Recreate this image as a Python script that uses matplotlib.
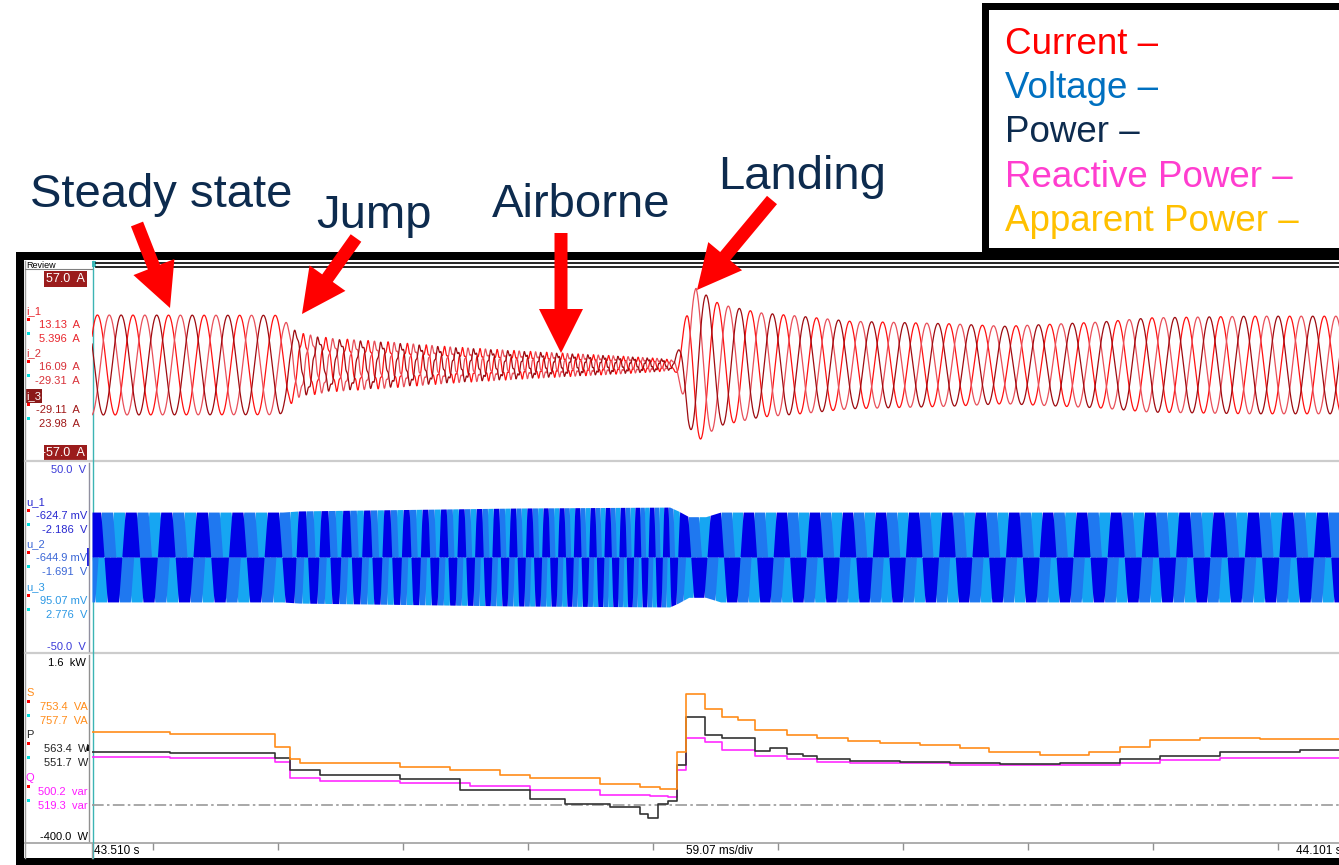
import matplotlib.pyplot as plt
import numpy as np
from matplotlib.patches import Rectangle, FancyArrow

W, H = 1339, 865
MS_PER_DIV = 59.07
SPAN_MS = 10 * MS_PER_DIV

# --- electrical frequency of the drive (ms, Hz), read from the peak spacing ---
freq_t = [0, 90.3, 95.9, 112.5, 145.6, 192.8, 240.1, 273.1, 276.4, 280.7, 287.3, 381.8, 476.3, 590.7]
freq_hz = [59.5, 59.5, 90, 97, 110, 125, 140, 150, 110, 70, 64, 64, 62, 61]

# --- phase current envelope (ms, A) ---
cur_amp_t = [0, 88.8, 92.6, 98.3, 112.5, 138.5, 169.2, 202.3, 221.2, 249.5, 268.4, 275.0,
             277.9, 281.7, 285.5, 289.7, 296.8, 315.7, 334.6, 358.2, 405.5, 431.0, 476.3,
             500.0, 547.2, 590.7]
cur_amp = [29.7, 29.5, 24, 18, 15, 13, 10, 7.7, 6.5, 4.8, 3.5, 2.6,
           12, 35, 46, 42, 36, 31, 29, 26, 24.5, 23, 25.5,
           28, 29, 29]
# distortion of the current during the airborne phase (ms, fraction of 5th harmonic)
ripple_t = [0, 90, 100, 200, 272, 277, 590.7]
ripple = [0.0, 0.0, 0.12, 0.2, 0.25, 0.0, 0.0]

# --- phase voltage envelope (ms, V) ---
volt_amp_t = [0, 90, 98, 200, 273, 277, 282, 290, 297, 590.7]
volt_amp = [23.4, 23.4, 24.0, 25.5, 26.0, 24.0, 21.0, 21.0, 23.4, 23.4]

# --- power traces, step values (ms, VA / W / var) ---
s_t = [0, 36.9, 86.5, 93.6, 98.3, 145.6, 169.2, 192.8, 207.0, 240.1, 259.0, 268.4, 276.4,
       280.7, 289.7, 297.7, 305.3, 313.3, 328.4, 342.6, 357.3, 372.4, 391.3, 410.2, 424.0,
       448.0, 471.0, 485.8, 500.0, 523.6, 552.0, 570.9, 590.7]
s_va = [766, 745, 610, 480, 445, 400, 370, 320, 280, 225, 190, 170, 560,
        1172, 1012, 926, 894, 787, 734, 702, 670, 650, 630, 600, 560,
        530, 560, 610, 680, 710, 700, 695, 695]
p_t = [0, 36.9, 86.5, 93.6, 107.7, 145.6, 173.9, 207.0, 223.5, 244.8, 259.0, 262.7, 267.5,
       272.2, 276.4, 280.7, 289.7, 297.7, 313.3, 320.4, 328.4, 336.0, 342.6, 358.2, 381.8,
       405.5, 429.0, 457.5, 485.8, 504.7, 533.0, 570.9, 590.7]
p_w = [563, 550, 500, 370, 320, 270, 160, 60, 10, -20, -90, -140, 10,
       40, 420, 926, 734, 702, 573, 595, 541, 520, 488, 466, 455,
       440, 430, 440, 480, 520, 560, 575, 575]
q_t = [0, 36.9, 86.5, 93.6, 107.7, 145.6, 178.6, 207.0, 240.1, 263.7, 272.2, 276.4, 280.7,
       289.7, 297.7, 313.3, 328.4, 342.6, 358.2, 405.5, 452.7, 485.8, 504.7, 533.0, 570.9,
       590.7]
q_var = [509, 500, 450, 280, 250, 230, 200, 160, 110, 90, 80, 370, 702,
         659, 584, 520, 488, 455, 445, 425, 420, 440, 470, 495, 500,
         500]

# --- cursor readouts in the left column ---
current_names = ["i_1", "i_2", "i_3"]
current_c1 = ["13.13  A", "16.09  A", "-29.11  A"]
current_c2 = ["5.396  A", "-29.31  A", "23.98  A"]
voltage_names = ["u_1", "u_2", "u_3"]
voltage_c1 = ["-624.7 mV", "-644.9 mV", "95.07 mV"]
voltage_c2 = ["-2.186  V", "-1.691  V", "2.776  V"]
power_names = ["S", "P", "Q"]
power_c1 = ["753.4  VA", "563.4  W", "500.2  var"]
power_c2 = ["757.7  VA", "551.7  W", "519.3  var"]

legend_labels = ["Current \u2013", "Voltage \u2013", "Power \u2013",
                 "Reactive Power \u2013", "Apparent Power \u2013"]
legend_colors = ["#ff0000", "#0070c0", "#0d2b4e", "#ff3dcf", "#ffc000"]

phase_labels = ["Steady state", "Jump", "Airborne", "Landing"]

CUR_COLORS = ["#ff1010", "#e8505a", "#9e0b10"]
CUR_TEXT = ["#e8262e", "#d83038", "#a01818"]
VOLT_COLORS = ["#0000e6", "#1f78f0", "#16a6f2"]
VOLT_TEXT = ["#2828d0", "#3a66d6", "#2c98e4"]
POW_COLORS = ["#ff8c1a", "#333333", "#ff2bff"]
NAVY = "#0d2b4e"
FONT = ["Liberation Sans", "DejaVu Sans"]


def px_axes(fig, x0, y0, x1, y1):
    """Axes placed by pixel box (top-left origin)."""
    ax = fig.add_axes([x0 / W, 1 - y1 / H, (x1 - x0) / W, (y1 - y0) / H])
    ax.set_facecolor("none")
    ax.axis("off")
    return ax


def rect(ax, x0, y0, x1, y1, **kw):
    ax.add_patch(Rectangle((x0, y0), x1 - x0, y1 - y0, lw=0, **kw))


fig = plt.figure(figsize=(W / 100, H / 100), dpi=100)

bg = fig.add_axes([0, 0, 1, 1])
bg.set_xlim(0, W)
bg.set_ylim(H, 0)
bg.axis("off")

# scope window frame
rect(bg, 16, 252, 1345, 866, color="black")
rect(bg, 24, 260, 1345, 858, color="white")
bg.plot([25, 25], [261, 858], color="#a0a0a0", lw=1)
bg.plot([25, 1339], [461, 461], color="#cccccc", lw=1.6)
bg.plot([25, 1339], [653, 653], color="#cccccc", lw=1.6)
bg.plot([25, 1339], [843, 843], color="#a0a0a0", lw=1.2)
bg.plot([92.5, 92.5], [261, 858], color="#3cb4b4", lw=1)
bg.plot([25, 92], [269, 269], color="#808080", lw=0.8)
bg.plot([96, 1339], [262.5, 262.5], color="black", lw=1.2)
bg.plot([96, 1339], [266.5, 266.5], color="black", lw=1.2)
rect(bg, 92, 261, 96, 267, color="#40c0c0")
bg.text(26, 265.5, "Review", fontsize=6.5, va="center", ha="left", family=FONT)

# scale bars in the label column
bg.plot([89, 89], [463, 651], color="#9090a0", lw=1)
bg.plot([89, 89], [655, 841], color="#909090", lw=1)
rect(bg, 87, 548, 90, 566, color="#2020e0")
rect(bg, 87, 745, 90, 751, color="black")


def lbl(x, y, s, color, ha="right", size=8, **kw):
    bg.text(x, y, s, color=color, ha=ha, va="center", fontsize=size, family=FONT, **kw)


def scale_box(y, s):
    rect(bg, 44, y - 8, 87, y + 8, color="#9b1c1c")
    lbl(85, y, s, "white", size=9)


scale_box(279, "57.0  A")
scale_box(453, "-57.0  A")
lbl(86, 470, "50.0  V", "#3a3ad8", size=8)
lbl(86, 647, "-50.0  V", "#3a3ad8", size=8)
lbl(86, 663, "1.6  kW", "black", size=8)
lbl(88, 837, "-400.0  W", "black", size=8)


def readout(y0, name, c1, c2, color, right, highlight=False):
    if highlight:
        rect(bg, 25, y0 - 7, 42, y0 + 7, color="#8b1a1a")
        lbl(26, y0, name, "white", ha="left")
    else:
        lbl(26, y0, name, color, ha="left")
    rect(bg, 27, y0 + 6.5, 30, y0 + 9.5, color="#ff0000")
    lbl(right, y0 + 14, c1, color)
    rect(bg, 27, y0 + 20.5, 30, y0 + 23.5, color="#00e0e0")
    lbl(right, y0 + 28, c2, color)


for k, y0 in enumerate([311, 353, 396]):
    readout(y0, current_names[k], current_c1[k], current_c2[k], CUR_TEXT[k], 80, highlight=(k == 2))
for k, y0 in enumerate([502, 544, 587]):
    readout(y0, voltage_names[k], voltage_c1[k], voltage_c2[k], VOLT_TEXT[k], 87)
pow_text = ["#ff8c1a", "#222222", "#ff1aff"]
for k, y0 in enumerate([693, 735, 778]):
    readout(y0, power_names[k], power_c1[k], power_c2[k], pow_text[k], 88)

# time axis strip
rect(bg, 25, 843, 92, 858, color="white")
bg.plot([92, 92], [843, 858], color="#a0a0a0", lw=1)
bg.text(94, 851, "43.510 s", fontsize=8.5, va="center", ha="left", family=FONT)
bg.text(686, 851, "59.07 ms/div", fontsize=8.5, va="center", ha="left", family=FONT)
bg.text(1296, 851, "44.101 s", fontsize=8.5, va="center", ha="left", family=FONT)

# --- waveforms ---
t = np.linspace(0, SPAN_MS, 15000)
dt = t[1] - t[0]
f = np.interp(t, freq_t, freq_hz)
theta = 2 * np.pi * np.cumsum(f) * dt / 1000.0 + 0.6

cur_ax = px_axes(fig, 92, 269, 1342, 461)
cur_ax.set_xlim(0, SPAN_MS)
cur_ax.set_ylim(-57, 57)
amp = np.interp(t, cur_amp_t, cur_amp)
rip = np.interp(t, ripple_t, ripple)
for k in range(3):
    ph = theta - 2 * np.pi * k / 3
    i_k = amp * (np.sin(ph) + rip * np.sin(5 * ph + 0.8 * k)) / (1 + 0.5 * rip)
    cur_ax.plot(t, i_k, color=CUR_COLORS[k], lw=0.9)

volt_ax = px_axes(fig, 92, 461, 1342, 653)
volt_ax.set_xlim(0, SPAN_MS)
volt_ax.set_ylim(-50, 50)
vamp = np.interp(t, volt_amp_t, volt_amp)
for k in [2, 1, 0]:
    ph = theta - 2 * np.pi * k / 3 + 0.4
    v_k = vamp * np.clip(1.8 * np.sin(ph), -1, 1)
    volt_ax.fill_between(t, 0, v_k, color=VOLT_COLORS[k], lw=0)

pow_ax = px_axes(fig, 92, 653, 1342, 843)
pow_ax.set_xlim(0, SPAN_MS)
pow_ax.set_ylim(-400, 1600)
pow_ax.axhline(0, color="#999999", lw=1.2, ls=(0, (7, 2, 1.5, 2)))
pow_ax.plot(q_t, q_var, drawstyle="steps-post", color=POW_COLORS[2], lw=1.2)
pow_ax.plot(p_t, p_w, drawstyle="steps-post", color=POW_COLORS[1], lw=1.2)
pow_ax.plot(s_t, s_va, drawstyle="steps-post", color=POW_COLORS[0], lw=1.2)

strip_ax = px_axes(fig, 92, 843, 1342, 858)
strip_ax.set_xlim(0, SPAN_MS)
strip_ax.set_ylim(0, 1)
tick_ms = 28.8 + MS_PER_DIV * np.arange(10)
strip_ax.vlines(tick_ms, 0.55, 1.0, color="#909090", lw=1)

# --- annotations on top ---
fg = fig.add_axes([0, 0, 1, 1])
fg.set_facecolor("none")
fg.set_xlim(0, W)
fg.set_ylim(H, 0)
fg.axis("off")

rect(fg, 982, 3, 1345, 252, color="black")
rect(fg, 989, 10, 1345, 248, color="white")
for s, c, yb in zip(legend_labels, legend_colors, [54, 98, 142, 187, 231]):
    fg.text(1005, yb, s, color=c, fontsize=26.5, va="baseline", ha="left", family=FONT)

for s, x, yb in zip(phase_labels, [30, 316, 492, 718], [207, 228, 217, 189]):
    fg.text(x, yb, s, color=NAVY, fontsize=34, va="baseline", ha="left", family=FONT)

arrows = [((137, 224), (170, 308)), ((356, 238), (302, 314)),
          ((561, 233), (561, 353)), ((772, 200), (697, 290))]
for (x0, y0), (x1, y1) in arrows:
    fg.add_patch(FancyArrow(x0, y0, x1 - x0, y1 - y0, width=13, head_width=44,
                            head_length=44, length_includes_head=True,
                            color="#ff0000", lw=0))

fig.savefig("out.png", dpi=100)
